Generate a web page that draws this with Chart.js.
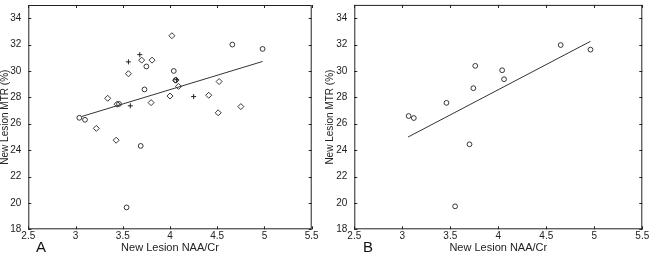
<!DOCTYPE html>
<html>
<head>
<meta charset="utf-8">
<script src="https://cdn.jsdelivr.net/npm/chart.js@4"></script>
<style>
  body { margin: 0; background: #fff; }
  .panel { position: absolute; top: 0; width: 325px; height: 253px; }
  .tag { position: absolute; font-family: "Liberation Sans", Arial, sans-serif; font-size: 15px; line-height: 1; color: #111; }
</style>
</head>
<body>
<div class="panel" style="left:0"><canvas id="chartA" width="325" height="253"></canvas><div class="tag" style="left:36px;top:239px">A</div></div>
<div class="panel" style="left:325px"><canvas id="chartB" width="325" height="253"></canvas><div class="tag" style="left:38px;top:239px">B</div></div>
<script>
// tick labels
const xTicks = [2.5, 3, 3.5, 4, 4.5, 5, 5.5];
const yTicks = [18, 20, 22, 24, 26, 28, 30, 32, 34];

// panel A: circles (same lesions as panel B)
const circlesAX = [3.04, 3.10, 3.46, 3.54, 3.69, 3.73, 3.75, 4.04, 4.06, 4.66, 4.98];
const circlesAY = [26.45, 26.3, 27.5, 19.66, 24.32, 28.6, 30.34, 30.0, 29.3, 32.0, 31.67];
// panel A: diamonds
const diamondsX = [4.02, 3.70, 3.81, 3.56, 3.34, 3.44, 3.80, 4.00, 4.09, 4.41, 4.52, 4.51, 4.75, 3.22, 3.43, 4.06];
const diamondsY = [32.67, 30.82, 30.82, 29.79, 27.93, 27.48, 27.6, 28.1, 28.83, 28.16, 29.2, 26.83, 27.3, 25.65, 24.75, 29.3];
// panel A: plus signs
const plusX = [3.68, 3.56, 3.58, 4.25, 4.07];
const plusY = [31.24, 30.69, 27.36, 28.06, 29.34];
// panel A fit line
const fitAX = [3.065, 4.98];
const fitAY = [26.55, 30.72];

// panel B: circles
const circlesBX = [3.066, 3.12, 3.46, 3.55, 3.70, 3.74, 3.76, 4.04, 4.06, 4.65, 4.96];
const circlesBY = [26.58, 26.43, 27.58, 19.74, 24.44, 28.69, 30.38, 30.05, 29.37, 31.96, 31.61];
// panel B fit line
const fitBX = [3.06, 4.96];
const fitBY = [24.99, 32.24];

const ink = '#222';
const font = 'Liberation Sans, Arial, sans-serif';

const pts = (xs, ys) => xs.map((x, i) => ({ x: x, y: ys[i] }));

// box frame with inward ticks on all four sides, like the original figure
const framePlugin = {
    id: 'frame',
    afterDraw(chart) {
        const { ctx, chartArea: a, scales } = chart;
        ctx.save();
        ctx.strokeStyle = ink;
        ctx.lineWidth = 1;
        ctx.strokeRect(a.left + 0.5, a.top + 0.5, a.right - a.left - 1, a.bottom - a.top - 1);
        ctx.beginPath();
        xTicks.forEach(v => {
            const px = Math.round(scales.x.getPixelForValue(v)) + 0.5;
            ctx.moveTo(px, a.bottom); ctx.lineTo(px, a.bottom - 3);
            ctx.moveTo(px, a.top); ctx.lineTo(px, a.top + 3);
        });
        yTicks.forEach(v => {
            const py = Math.round(scales.y.getPixelForValue(v)) + 0.5;
            ctx.moveTo(a.left, py); ctx.lineTo(a.left + 3, py);
            ctx.moveTo(a.right, py); ctx.lineTo(a.right - 3, py);
        });
        ctx.stroke();
        ctx.restore();
    }
};

function makeChart(id, datasets, yWidth, pad) {
    return new Chart(document.getElementById(id), {
        type: 'scatter',
        data: { datasets: datasets },
        options: {
            responsive: false,
            animation: false,
            devicePixelRatio: 1,
            layout: { padding: pad },
            plugins: { legend: { display: false }, tooltip: { enabled: false } },
            scales: {
                x: {
                    type: 'linear', min: 2.5, max: 5.5,
                    afterBuildTicks: s => { s.ticks = xTicks.map(v => ({ value: v })); },
                    afterFit: s => { s.height = 23.7; s.paddingLeft = 0; s.paddingRight = 0; },
                    grid: { display: false, drawTicks: false },
                    border: { display: false },
                    ticks: { color: ink, font: { family: font, size: 10 }, padding: 1, maxRotation: 0,
                             callback: v => String(v) },
                    title: { display: true, text: 'New Lesion NAA/Cr', color: ink,
                             font: { family: font, size: 11, lineHeight: 1 }, padding: 0 }
                },
                y: {
                    type: 'linear', min: 18, max: 35,
                    afterBuildTicks: s => { s.ticks = yTicks.map(v => ({ value: v })); },
                    afterFit: s => { s.width = yWidth; s.paddingTop = 0; s.paddingBottom = 0; },
                    grid: { display: false, drawTicks: false },
                    border: { display: false },
                    ticks: { color: ink, font: { family: font, size: 10 }, padding: 7,
                             callback: v => String(v) },
                    title: { display: true, text: 'New Lesion MTR (%)', color: ink,
                             font: { family: font, size: 10, lineHeight: 1 }, padding: { top: 0.5, bottom: 0 } }
                }
            }
        },
        plugins: [framePlugin]
    });
}

const circleStyle = { pointStyle: 'circle', pointRadius: 2.4, pointBorderWidth: 0.9,
                      pointBackgroundColor: 'rgba(0,0,0,0)', borderColor: ink, showLine: false };
const lineStyle = { showLine: true, pointRadius: 0, borderColor: '#333', borderWidth: 1 };

makeChart('chartA', [
    Object.assign({ data: pts(fitAX, fitAY) }, lineStyle),
    Object.assign({ data: pts(circlesAX, circlesAY) }, circleStyle),
    { data: pts(diamondsX, diamondsY), pointStyle: 'rectRot', pointRadius: 3, pointBorderWidth: 0.9,
      pointBackgroundColor: 'rgba(0,0,0,0)', borderColor: ink, showLine: false },
    { data: pts(plusX, plusY), pointStyle: 'cross', pointRadius: 2.5, pointBorderWidth: 1,
      borderColor: ink, showLine: false }
], 28.3, { left: 0, right: 13.3, top: 3.4, bottom: 0 });

makeChart('chartB', [
    Object.assign({ data: pts(fitBX, fitBY) }, lineStyle),
    Object.assign({ data: pts(circlesBX, circlesBY) }, circleStyle)
], 29.3, { left: 0, right: 7.7, top: 4.0, bottom: 0 });
</script>
</body>
</html>
